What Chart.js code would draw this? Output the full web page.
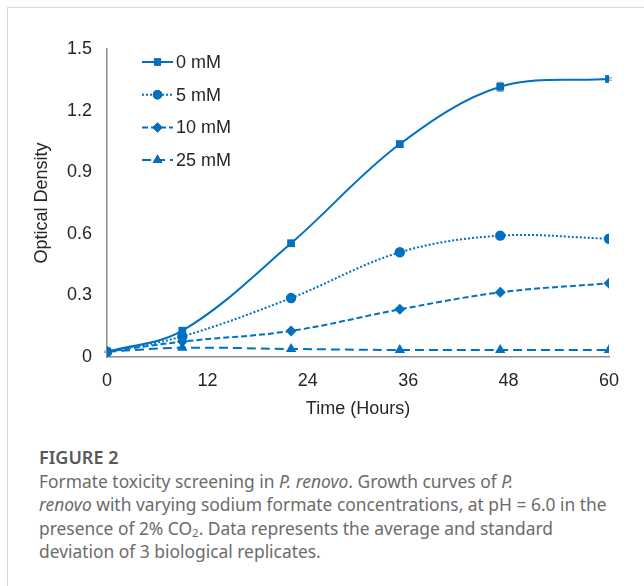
<!DOCTYPE html>
<html>
<head>
<meta charset="utf-8">
<script src="https://cdn.jsdelivr.net/npm/chart.js@4.4.1/dist/chart.umd.min.js"></script>
<style>
  html, body { margin: 0; padding: 0; background: #fff; }
  body { width: 644px; height: 586px; overflow: hidden; position: relative; }
  .frame {
    position: absolute; left: 7px; top: 7px; width: 700px; height: 640px;
    border-top: 1.5px solid #d9d9d9; border-left: 1.5px solid #d9d9d9;
  }
  .wrap { position: absolute; left: 8px; top: 8px; width: 636px; height: 425px; }
  .caption {
    position: absolute; left: 39px; top: 446px; width: 604px; white-space: nowrap;
    font-family: "Noto Sans", sans-serif; color: #6b6b6b; font-size: 17.4px; line-height: 23.6px;
  }
  .caption .fig { font-weight: 600; color: #595959; font-size: 18px; margin-bottom: 0; }
  .caption sub { font-size: 11.5px; vertical-align: -2px; line-height: 0; }
</style>
</head>
<body>
<div class="frame"></div>
<div class="wrap"><canvas id="chart"></canvas></div>
<div class="caption">
  <div class="fig">FIGURE 2</div>
  Formate toxicity screening in <i>P. renovo</i>. Growth curves of <i>P.<br>renovo</i> with varying sodium formate concentrations, at pH = 6.0 in the<br>presence of 2% CO<sub>2</sub>. Data represents the average and standard<br>deviation of 3 biological replicates.
</div>
<script>
// dane
const hours = [0, 9, 22, 35, 47, 60];
const od0mM  = [0.026, 0.128, 0.554, 1.037, 1.316, 1.354];
const od5mM  = [0.026, 0.100, 0.287, 0.510, 0.591, 0.576];
const od10mM = [0.026, 0.075, 0.127, 0.232, 0.315, 0.359];
const od25mM = [0.026, 0.045, 0.039, 0.034, 0.034, 0.034];
const sd0mM  = [0.003, 0.006, 0.010, 0.010, 0.022, 0.006];
const seriesNames = ["0 mM", "5 mM", "10 mM", "25 mM"];
const yTicks = [0, 0.3, 0.6, 0.9, 1.2, 1.5];
const xTicks = [0, 12, 24, 36, 48, 60];

const BLUE = "#0070C0";
const FONT = "'Liberation Sans', Arial, sans-serif";
const TXT = "#262626";

function pts(ys) { return hours.map((h, i) => ({ x: h, y: ys[i] })); }

function ds(label, ys, style, dash, r) {
  return {
    label, data: pts(ys), borderColor: BLUE, backgroundColor: BLUE,
    borderWidth: 2, borderDash: dash, pointStyle: style, pointRadius: r,
    pointBorderWidth: 0, tension: 0.35, fill: false
  };
}

const datasets = [
  ds(seriesNames[0], od0mM, "rect", [], 5.5),
  ds(seriesNames[1], od5mM, "circle", [2, 2], 5.2),
  ds(seriesNames[2], od10mM, "rectRot", [6, 3], 5.5),
  ds(seriesNames[3], od25mM, "triangle", [9, 5], 6)
];
datasets[0].errors = sd0mM;

// słupki błędów
const errorBars = {
  id: "errorBars",
  beforeDatasetsDraw(chart) {
    const { ctx, scales: { x, y } } = chart;
    ctx.save();
    ctx.strokeStyle = "#8c8c8c";
    ctx.lineWidth = 1;
    chart.data.datasets.forEach(d => {
      if (!d.errors) return;
      d.data.forEach((p, i) => {
        const px = x.getPixelForValue(p.x);
        const top = y.getPixelForValue(p.y + d.errors[i]);
        const bot = y.getPixelForValue(p.y - d.errors[i]);
        ctx.beginPath();
        ctx.moveTo(px, top); ctx.lineTo(px, bot);
        ctx.moveTo(px - 3, top); ctx.lineTo(px + 3, top);
        ctx.moveTo(px - 3, bot); ctx.lineTo(px + 3, bot);
        ctx.stroke();
      });
    });
    ctx.restore();
  }
};

// legenda w obszarze wykresu
const innerLegend = {
  id: "innerLegend",
  afterDraw(chart) {
    const { ctx, chartArea } = chart;
    const x0 = chartArea.left + 35, y0 = chartArea.top + 13, step = 32.7;
    ctx.save();
    chart.data.datasets.forEach((d, i) => {
      const yy = y0 + i * step;
      ctx.strokeStyle = d.borderColor;
      ctx.lineWidth = 2;
      ctx.setLineDash(d.borderDash);
      ctx.beginPath();
      ctx.moveTo(x0, yy); ctx.lineTo(x0 + 31, yy);
      ctx.stroke();
      ctx.setLineDash([]);
      Chart.helpers.drawPoint(ctx, { pointStyle: d.pointStyle, radius: d.pointRadius - 0.5, borderWidth: 0 }, x0 + 15.5, yy);
      ctx.fillStyle = d.backgroundColor;
      ctx.fill();
      ctx.fillStyle = TXT;
      ctx.font = "18px " + FONT;
      ctx.textBaseline = "middle";
      ctx.fillText(d.label, x0 + 34, yy + 1);
    });
    ctx.restore();
  }
};

new Chart(document.getElementById("chart"), {
  type: "line",
  data: { datasets },
  plugins: [errorBars, innerLegend],
  options: {
    responsive: true, maintainAspectRatio: false, animation: false,
    layout: { padding: { top: 41, right: 35, left: 0, bottom: 0 } },
    plugins: { legend: { display: false }, tooltip: { enabled: false } },
    scales: {
      x: {
        type: "linear", min: 0, max: 60,
        afterBuildTicks: s => { s.ticks = xTicks.map(v => ({ value: v })); },
        afterFit: s => { s.height = 76; },
        grid: { display: false, drawTicks: false },
        border: { color: "#8c8c8c", width: 1.5 },
        ticks: { color: TXT, font: { family: FONT, size: 18 }, padding: 13, maxRotation: 0 },
        title: { display: true, text: "Time (Hours)", color: TXT, font: { family: FONT, size: 18 }, padding: { top: 4, bottom: 13 } }
      },
      y: {
        min: 0, max: 1.5,
        afterBuildTicks: s => { s.ticks = yTicks.map(v => ({ value: v })); },
        afterFit: s => { s.width = 99; },
        grid: { display: false, drawOnChartArea: false, drawTicks: true, tickLength: 5, tickColor: "#8c8c8c", tickWidth: 1.5 },
        border: { color: "#8c8c8c", width: 1.5 },
        ticks: { color: TXT, font: { family: FONT, size: 18 }, padding: 10,
                 callback: v => v === 0 ? "0" : v.toFixed(1) },
        title: { display: true, text: "Optical Density", color: TXT, font: { family: FONT, size: 18 }, padding: { top: 23, bottom: 4 } }
      }
    }
  }
});
</script>
</body>
</html>
